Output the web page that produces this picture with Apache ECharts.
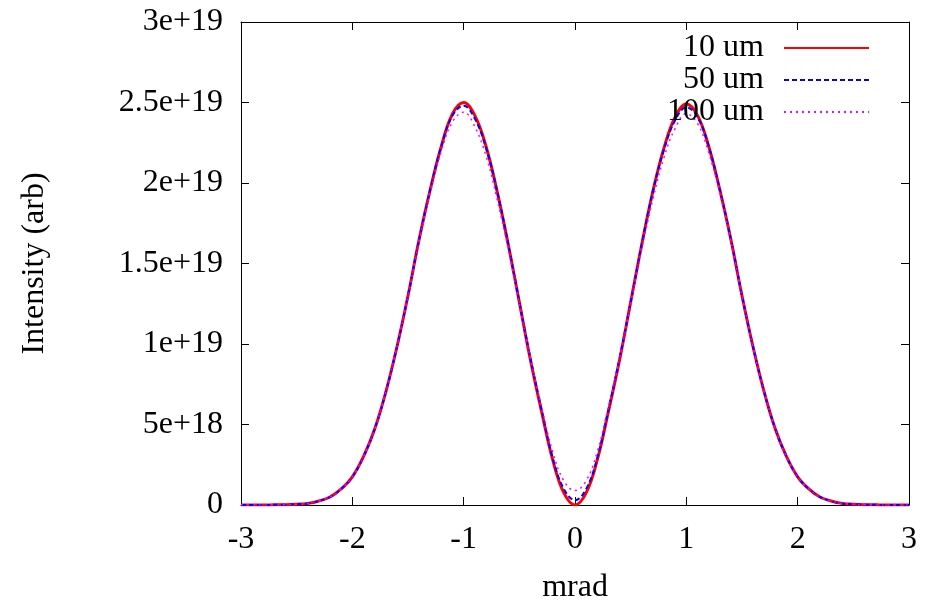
<!DOCTYPE html>
<html>
<head>
    <meta charset="utf-8" />
    <title>Intensity vs mrad</title>
    <script src="https://cdn.jsdelivr.net/npm/echarts@6/dist/echarts.min.js"></script>
    <style>
        html, body { margin: 0; padding: 0; background: #fff; }
        #main { width: 935px; height: 601px; }
    </style>
</head>
<body>
<div id="main"></div>
<script>
    // x positions (mrad)
    let xs = [-3.0, -2.9, -2.8, -2.7, -2.6, -2.5, -2.4, -2.3, -2.2, -2.1,
              -2.0, -1.9, -1.8, -1.7, -1.6, -1.5, -1.4, -1.3, -1.2, -1.1,
              -1.0, -0.9, -0.8, -0.7, -0.6, -0.5, -0.4, -0.3, -0.2, -0.1,
               0.0,  0.1,  0.2,  0.3,  0.4,  0.5,  0.6,  0.7,  0.8,  0.9,
               1.0,  1.1,  1.2,  1.3,  1.4,  1.5,  1.6,  1.7,  1.8,  1.9,
               2.0,  2.1,  2.2,  2.3,  2.4,  2.5,  2.6,  2.7,  2.8,  2.9, 3.0]

    // intensities in units of 1e18
    let um10 = [0, 0, 0, 0.01, 0.02, 0.05, 0.1, 0.25, 0.5, 1.0,
                1.75, 3.0, 4.7, 7.0, 9.8, 13.0, 16.5, 19.6, 22.3, 24.3,
                25.0, 24.2, 22.3, 19.5, 16.2, 12.6, 9.0, 5.8, 2.8, 0.75,
                0, 0.75, 2.8, 5.8, 9.0, 12.6, 16.2, 19.5, 22.2, 24.1,
                24.9, 24.2, 22.3, 19.6, 16.5, 13.0, 9.8, 7.0, 4.7, 3.0,
                1.75, 1.0, 0.5, 0.25, 0.1, 0.05, 0.02, 0.01, 0, 0, 0]

    let um50 = [0, 0, 0, 0.01, 0.02, 0.05, 0.1, 0.25, 0.5, 1.0,
                1.75, 3.0, 4.7, 7.0, 9.8, 13.0, 16.5, 19.6, 22.3, 24.2,
                24.8, 24.0, 22.2, 19.5, 16.2, 12.6, 9.1, 5.9, 2.9, 1.0,
                0.3, 1.0, 2.9, 5.9, 9.1, 12.6, 16.2, 19.5, 22.1, 23.9,
                24.7, 24.1, 22.3, 19.6, 16.5, 13.0, 9.8, 7.0, 4.7, 3.0,
                1.75, 1.0, 0.5, 0.25, 0.1, 0.05, 0.02, 0.01, 0, 0, 0]

    let um100 = [0, 0, 0, 0.01, 0.02, 0.05, 0.1, 0.25, 0.5, 1.0,
                 1.75, 3.0, 4.7, 7.0, 9.8, 13.0, 16.4, 19.4, 22.0, 23.8,
                 24.4, 23.5, 21.7, 19.0, 15.9, 12.5, 9.1, 6.1, 3.3, 1.5,
                 0.9, 1.5, 3.3, 6.1, 9.1, 12.5, 15.9, 19.0, 21.6, 23.4,
                 24.3, 23.7, 21.9, 19.4, 16.4, 13.0, 9.8, 7.0, 4.7, 3.0,
                 1.75, 1.0, 0.5, 0.25, 0.1, 0.05, 0.02, 0.01, 0, 0, 0]

    let yTickLabels = ['0', '5e+18', '1e+19', '1.5e+19', '2e+19', '2.5e+19', '3e+19']

    function pairs(ys) {
        return xs.map(function (x, i) { return [x, ys[i]] })
    }

    let font = 'Liberation Serif'
    let fs = 32
    let chart = echarts.init(document.getElementById('main'))

    let tickStyle = { show: true, inside: true, length: 8, lineStyle: { color: '#000', width: 1 } }
    let lineAx = { show: true, onZero: false, lineStyle: { color: '#000', width: 1 } }

    chart.setOption({
        animation: false,
        grid: { left: 241, right: 26, top: 22, bottom: 96, containLabel: false, outerBoundsMode: 'none' },
        legend: {
            orient: 'vertical',
            right: 65,
            top: 32,
            padding: 0,
            align: 'right',
            itemWidth: 85,
            itemHeight: 14,
            itemGap: 0,
            itemStyle: { opacity: 0 },
            textStyle: { fontFamily: font, fontSize: fs, color: '#000', padding: [0, 15, 0, 0] },
            data: ['10 um', '50 um', '100 um']
        },
        xAxis: [
            {
                type: 'value', min: -3, max: 3, interval: 1,
                name: 'mrad', nameLocation: 'middle', nameGap: 67,
                nameTextStyle: { fontFamily: font, fontSize: fs, color: '#000' },
                axisLine: lineAx, axisTick: tickStyle,
                axisLabel: { fontFamily: font, fontSize: fs, color: '#000', margin: 19 },
                splitLine: { show: false }
            },
            {
                type: 'value', min: -3, max: 3, interval: 1, position: 'top',
                axisLine: lineAx, axisTick: tickStyle,
                axisLabel: { show: false }, splitLine: { show: false }
            }
        ],
        yAxis: [
            {
                type: 'value', min: 0, max: 30, interval: 5,
                name: 'Intensity (arb)', nameLocation: 'middle', nameGap: 190,
                nameTextStyle: { fontFamily: font, fontSize: fs, color: '#000' },
                axisLine: lineAx, axisTick: tickStyle,
                axisLabel: {
                    fontFamily: font, fontSize: fs, color: '#000', margin: 18,
                    formatter: function (v) { return yTickLabels[Math.round(v / 5)] }
                },
                splitLine: { show: false }
            },
            {
                type: 'value', min: 0, max: 30, interval: 5, position: 'right',
                axisLine: lineAx, axisTick: tickStyle,
                axisLabel: { show: false }, splitLine: { show: false }
            }
        ],
        series: [
            {
                name: '10 um', type: 'line', showSymbol: false, symbol: 'none', smooth: 0.4,
                lineStyle: { color: '#ff0000', width: 3 }, itemStyle: { color: '#ff0000' },
                data: pairs(um10)
            },
            {
                name: '50 um', type: 'line', showSymbol: false, symbol: 'none', smooth: 0.4,
                lineStyle: { color: '#0000ff', width: 2, type: [5, 3] }, itemStyle: { color: '#0000ff' },
                data: pairs(um50)
            },
            {
                name: '100 um', type: 'line', showSymbol: false, symbol: 'none', smooth: 0.4,
                lineStyle: { color: '#ff00ff', width: 1.5, type: [2, 4] }, itemStyle: { color: '#ff00ff' },
                data: pairs(um100)
            }
        ]
    })
</script>
</body>
</html>
